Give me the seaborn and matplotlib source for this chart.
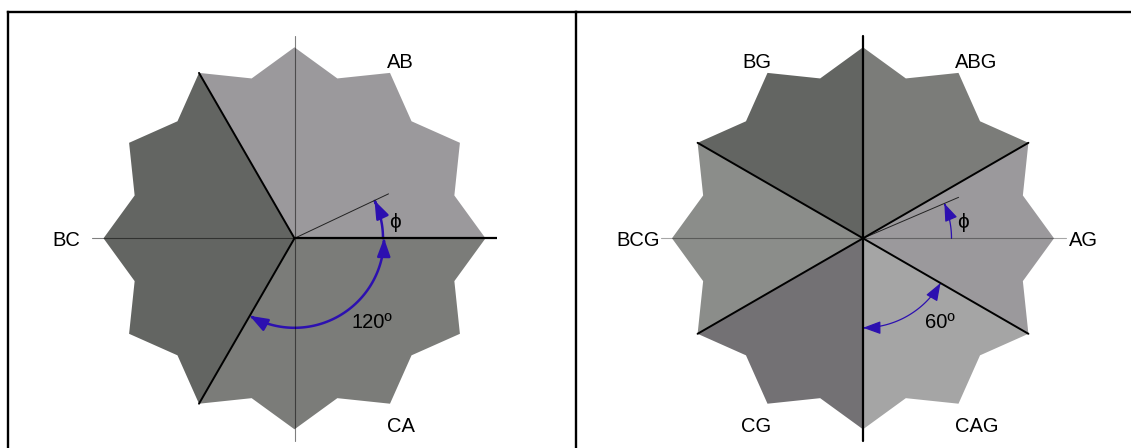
import numpy as np
import matplotlib.pyplot as plt
from matplotlib.patches import FancyArrowPatch
from matplotlib.path import Path
import seaborn as sns

# star outline: 12 tips with notches between them (radii in pixels)
n_tips = 12
r_tip = 191
r_notch = 165.5
r_axis = 202.5

# left panel: line-to-line faults, sector edges in degrees
left_names = ['AB', 'BC', 'CA']
left_edges = [0, 120, 240, 360]
left_colors = ['#9b999c', '#636562', '#7b7c79']
left_phi = 25.3
left_span = (-120, 0)
left_span_text = '120º'

# right panel: line-to-ground faults
right_names = ['AG', 'ABG', 'BG', 'BCG', 'CG', 'CAG']
right_edges = [-30, 30, 90, 150, 210, 270, 330]
right_colors = ['#9b999c', '#7b7c79', '#636562', '#8b8d8a', '#737174', '#a5a5a5']
right_phi = 23.2
right_span = (-90, -30)
right_span_text = '60º'

blue = '#2c10b0'

sns.set_theme(style='white')
plt.rcParams['font.family'] = ['Liberation Sans', 'DejaVu Sans']
plt.rcParams['text.color'] = 'black'


def pol(r, a):
    t = np.radians(a)
    return r * np.cos(t), r * np.sin(t)


def star_part(a0, a1):
    # polygon from the centre along the star outline between two tips
    step = 360 / n_tips / 2
    ang = np.arange(a0, a1 + 0.01, step)
    m = np.mod(ang, 30)
    rad = np.where(np.isclose(m, 0) | np.isclose(m, 30), r_tip, r_notch)
    x, y = pol(rad, ang)
    return np.r_[0, x], np.r_[0, y]


def arc(ax, a0, a1, r, lw, style, ms):
    t = np.linspace(a0, a1, 80)
    x, y = pol(r, t)
    ax.add_patch(FancyArrowPatch(path=Path(np.column_stack([x, y])), arrowstyle=style,
                                 mutation_scale=ms, color=blue, lw=lw))


def label(ax, name, a, side_r):
    a = a % 360
    fs = 14.5
    if np.isclose(a, 0):
        ax.text(side_r[1], -7.5, name, ha='left', va='baseline', fontsize=fs)
    elif np.isclose(a, 180):
        ax.text(-side_r[0], -7.5, name, ha='right', va='baseline', fontsize=fs)
    else:
        x = 92 if np.cos(np.radians(a)) > 0 else -92
        y = 170 if a < 180 else -193.4
        ax.text(x, y, name, ha='left' if x > 0 else 'right', va='baseline', fontsize=fs)


def panel(ax, names, edges, colors, phi, span, span_text, thick_arcs, side_r):
    for a0, a1, c in zip(edges[:-1], edges[1:], colors):
        x, y = star_part(a0, a1)
        ax.fill(x, y, color=c, lw=0)
    for a0, a1, name in zip(edges[:-1], edges[1:], names):
        label(ax, name, (a0 + a1) / 2, side_r)
    # phi reference line
    x, y = pol(104, phi)
    ax.plot([0, x], [0, y], color='#222222', lw=0.7)
    lw = 1.8 if thick_arcs else 0.9
    arc(ax, 0, phi, 88.5, lw, '-|>,head_length=0.6,head_width=0.22', 18)
    arc(ax, span[0], span[1], 89.5, lw, '<|-|>,head_length=0.6,head_width=0.22', 18)
    ax.text(*pol(101.5, 8.9), 'ϕ', ha='center', va='center', fontsize=15)
    ax.text(*pol(114.5, -47.7), span_text, ha='center', va='center', fontsize=14.5)


fig = plt.figure(figsize=(11.31, 4.48), dpi=100)
W, H = 1131, 448
cy = 238.3

# ---- left panel ----
ax1 = fig.add_axes([8 / W, 0, 568 / W, 436 / H])
cx = 294.5
ax1.set_xlim(8 - cx, 576 - cx)
ax1.set_ylim(cy - H, cy - 12)
ax1.plot([-r_axis, 0], [0, 0], color='black', alpha=0.5, lw=0.8)
ax1.plot([0, 0], [-r_axis, r_axis], color='black', alpha=0.5, lw=0.8)
panel(ax1, left_names, left_edges, left_colors, left_phi, left_span, left_span_text, True, (214, 205))
ax1.plot([0, r_axis], [0, 0], color='black', lw=1.6, solid_capstyle='butt')
for a in left_edges[1:-1]:
    x, y = pol(r_tip, a)
    ax1.plot([0, x], [0, y], color='black', lw=1.4)

# ---- right panel ----
ax2 = fig.add_axes([576 / W, 0, (W - 576) / W, 436 / H])
ax2.patch.set_visible(False)
cx = 863
ax2.set_xlim(576 - cx, W - cx)
ax2.set_ylim(cy - H, cy - 12)
ax2.plot([-r_axis, r_axis], [0, 0], color='black', alpha=0.35, lw=0.8)
panel(ax2, right_names, right_edges, right_colors, right_phi, right_span, right_span_text, False, (203, 205.7))
ax2.plot([0, 0], [-r_axis, r_axis], color='black', lw=1.6)
for a in right_edges[:-1]:
    if a % 180 == 90:
        continue
    x, y = pol(r_tip, a)
    ax2.plot([0, x], [0, y], color='black', lw=1.4)

for ax in (ax1, ax2):
    ax.set_xticks([])
    ax.set_yticks([])
    for s in ax.spines.values():
        s.set_color('black')
        s.set_linewidth(1.7)
    ax.spines['bottom'].set_visible(False)
ax2.spines['left'].set_visible(False)
ax2.spines['right'].set_visible(False)

fig.savefig('out.png', dpi=100)
